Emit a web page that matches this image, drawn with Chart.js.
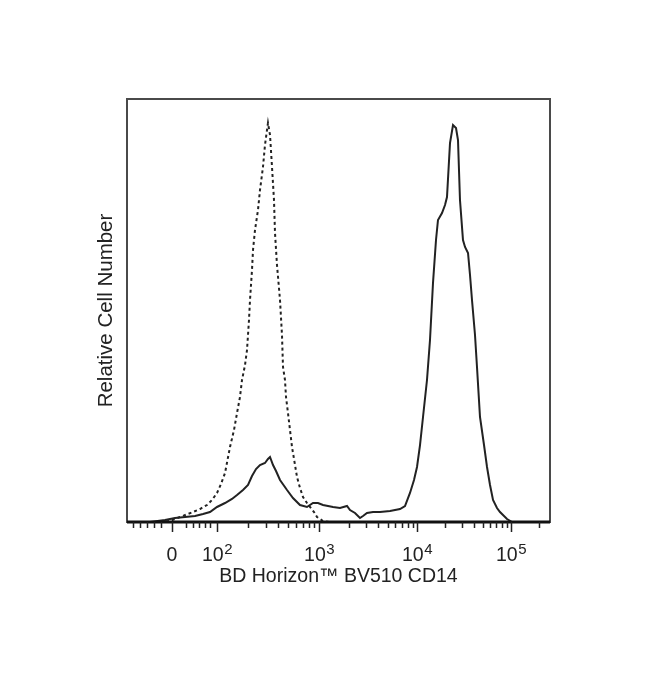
<!DOCTYPE html>
<html>
<head>
<meta charset="utf-8">
<script src="https://cdn.jsdelivr.net/npm/chart.js@4/dist/chart.umd.min.js"></script>
<style>
  html, body { margin: 0; padding: 0; background: #fff; }
  #wrap { width: 650px; height: 683px; }
</style>
</head>
<body>
<div id="wrap"><canvas id="c" width="650" height="683"></canvas></div>
<script>
// ---- Data (x in display channels 0..1000 of a biexponential axis, y = % of max height) ----
const solidX = [54.4, 89.8, 113.5, 137.1, 160.8, 179.7, 196.2, 212.8, 231.7, 248.2, 260.1, 274.2, 286.1, 295.5, 305.0, 314.4, 326.2, 333.3, 338.1, 345.2, 352.3, 361.7, 378.3, 392.4, 409.0, 425.5, 439.7, 451.5, 463.4, 487.0, 503.6, 520.1, 527.2, 539.0, 550.8, 557.9, 567.4, 581.6, 598.1, 621.8, 645.4, 657.2, 669.0, 678.5, 685.6, 692.7, 699.8, 709.2, 716.3, 723.4, 730.5, 735.2, 744.7, 751.8, 756.5, 763.6, 770.7, 777.8, 782.5, 787.2, 794.3, 799.1, 806.2, 810.9, 815.6, 822.7, 827.4, 834.5, 844.0, 851.1, 858.2, 865.3, 874.7, 881.8, 888.9, 898.4, 910.2, 929.1, 1000];
const solidY = [0, 0.47, 0.95, 1.18, 1.42, 1.89, 2.36, 3.55, 4.49, 5.44, 6.38, 7.57, 8.75, 10.87, 12.53, 13.48, 13.95, 14.89, 15.37, 13.48, 12.06, 9.93, 7.57, 5.67, 4.02, 3.55, 4.49, 4.49, 4.02, 3.55, 3.31, 3.78, 2.84, 2.13, 0.95, 1.42, 2.13, 2.36, 2.36, 2.60, 3.07, 3.78, 6.86, 9.93, 13.00, 18.20, 24.82, 33.57, 43.03, 56.50, 66.67, 71.40, 73.05, 74.94, 76.83, 89.60, 93.85, 93.15, 90.31, 76.12, 66.67, 65.01, 63.59, 58.39, 52.48, 44.21, 36.64, 24.82, 18.20, 13.00, 8.75, 5.20, 3.31, 2.36, 1.65, 0.71, 0, 0, 0];

const dashedX = [78.0, 101.7, 125.3, 156.0, 172.6, 189.1, 200.9, 212.8, 222.2, 231.7, 243.5, 253.0, 260.1, 267.1, 271.9, 279.0, 283.7, 288.4, 290.8, 295.5, 297.9, 302.6, 309.7, 314.4, 321.5, 326.2, 331.0, 333.3, 338.1, 342.8, 347.5, 349.9, 354.6, 361.7, 366.4, 368.8, 373.5, 375.9, 380.6, 385.3, 390.1, 397.2, 401.9, 409.0, 416.1, 425.5, 432.6, 442.1, 449.2, 463.4, 479.9, 527.2];
const dashedY = [0, 0.24, 1.18, 2.36, 3.07, 4.02, 5.20, 6.86, 8.98, 11.58, 17.73, 21.75, 25.77, 29.55, 33.57, 37.12, 40.66, 47.75, 52.48, 59.58, 64.30, 69.03, 73.76, 78.49, 83.93, 89.13, 92.67, 94.33, 91.49, 83.93, 76.12, 68.32, 60.76, 52.48, 44.21, 36.64, 33.57, 29.55, 25.77, 21.75, 17.73, 13.48, 10.64, 8.04, 5.91, 4.49, 3.55, 2.36, 1.18, 0.24, 0, 0];

// ---- Axis ticks ----
const tickValues = [106.4, 212.8, 454.1, 685.6, 907.8];
const tickBases = ['0', '10', '10', '10', '10'];
const tickExponents = ['', '2', '3', '4', '5'];
const decadeChannels = [212.8, 454.1, 685.6, 907.8, 1129.8];
const linearMinorTicks = [14, 31, 47, 64, 80, 139, 156, 170, 184, 196];

const minorTicks = linearMinorTicks.slice();
for (let d = 0; d < decadeChannels.length - 1; d++) {
  for (let k = 2; k <= 9; k++) {
    const v = decadeChannels[d] + Math.log10(k) * (decadeChannels[d + 1] - decadeChannels[d]);
    if (v <= 1000) minorTicks.push(v);
  }
}

const FONT = 'Liberation Sans, Arial, sans-serif';
const toPts = (xs, ys) => xs.map((x, i) => ({ x: x, y: ys[i] }));

const framePlugin = {
  id: 'frame',
  afterDatasetsDraw(chart) {
    const { ctx, chartArea: a, scales } = chart;
    const xs = scales.x;
    ctx.save();
    ctx.strokeStyle = '#4a4a4a';
    ctx.lineWidth = 2;
    ctx.strokeRect(a.left, a.top, a.right - a.left, a.bottom - a.top);
    ctx.strokeStyle = '#111';
    ctx.lineWidth = 3;
    ctx.beginPath();
    ctx.moveTo(a.left, a.bottom);
    ctx.lineTo(a.right, a.bottom);
    ctx.stroke();
    ctx.lineWidth = 1.5;
    ctx.strokeStyle = '#222';
    ctx.beginPath();
    tickValues.forEach(v => {
      const px = Math.round(xs.getPixelForValue(v)) + 0.5;
      ctx.moveTo(px, a.bottom);
      ctx.lineTo(px, a.bottom + 10);
    });
    minorTicks.forEach(v => {
      const px = Math.round(xs.getPixelForValue(v)) + 0.5;
      ctx.moveTo(px, a.bottom);
      ctx.lineTo(px, a.bottom + 6);
    });
    ctx.stroke();

    // tick labels with superscript exponents
    ctx.fillStyle = '#222';
    ctx.textBaseline = 'alphabetic';
    ctx.textAlign = 'left';
    const baseY = a.bottom + 39;
    tickValues.forEach((v, i) => {
      const px = xs.getPixelForValue(v);
      ctx.font = '19.5px ' + FONT;
      const wb = ctx.measureText(tickBases[i]).width;
      ctx.font = '15px ' + FONT;
      const we = tickExponents[i] ? ctx.measureText(tickExponents[i]).width : 0;
      const x0 = px - (wb + we) / 2;
      ctx.font = '19.5px ' + FONT;
      ctx.fillText(tickBases[i], x0, baseY);
      if (tickExponents[i]) {
        ctx.font = '15px ' + FONT;
        ctx.fillText(tickExponents[i], x0 + wb + 0.5, baseY - 7);
      }
    });
    ctx.restore();
  }
};

new Chart(document.getElementById('c'), {
  type: 'line',
  data: {
    datasets: [
      {
        label: 'Stained',
        data: toPts(solidX, solidY),
        borderColor: '#222',
        borderWidth: 2,
        pointRadius: 0,
        tension: 0,
        fill: false
      },
      {
        label: 'Control',
        data: toPts(dashedX, dashedY),
        borderColor: '#222',
        borderWidth: 2,
        borderDash: [3, 3],
        pointRadius: 0,
        tension: 0,
        fill: false
      }
    ]
  },
  options: {
    responsive: false,
    animation: false,
    devicePixelRatio: 1,
    layout: { padding: { top: 99, right: 100, bottom: 95, left: 0 } },
    plugins: { legend: { display: false }, tooltip: { enabled: false } },
    scales: {
      x: {
        type: 'linear',
        min: 0,
        max: 1000,
        grid: { display: false, drawTicks: false },
        border: { display: false },
        afterBuildTicks: (scale) => { scale.ticks = tickValues.map(v => ({ value: v })); },
        afterFit: (scale) => { scale.height = 66; },
        ticks: { display: false },
        title: {
          display: true,
          text: 'BD Horizon\u2122 BV510 CD14',
          color: '#222',
          font: { family: FONT, size: 19.5 },
          padding: { top: 0, bottom: 0 }
        }
      },
      y: {
        type: 'linear',
        min: 0,
        max: 100,
        grid: { display: false, drawTicks: false },
        border: { display: false },
        ticks: { display: false },
        afterFit: (scale) => { scale.width = 127; },
        title: {
          display: true,
          text: 'Relative Cell Number',
          color: '#222',
          font: { family: FONT, size: 20.5 },
          padding: { top: 94.5, bottom: 0 }
        }
      }
    }
  },
  plugins: [framePlugin]
});
</script>
</body>
</html>
